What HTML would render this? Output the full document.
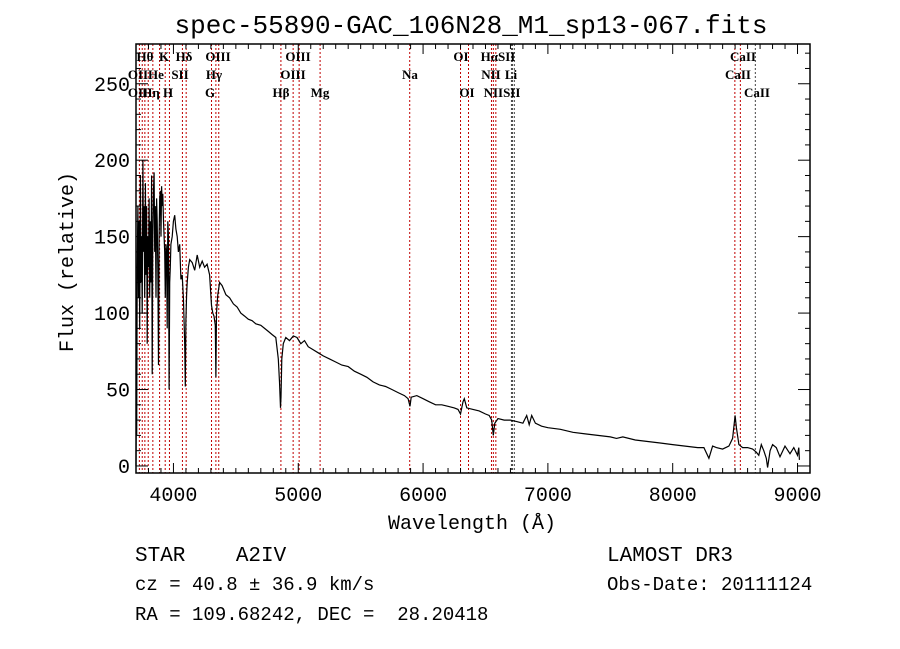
<!DOCTYPE html>
<html><head><meta charset="utf-8"><style>
body{margin:0;background:#fff;}
svg{display:block;}
.t{font-family:"Liberation Mono",monospace;white-space:pre;}
.s{font-family:"Liberation Serif",serif;font-weight:bold;font-size:13px;}
</style></head><body>
<svg id="c" width="900" height="649"></svg>
<script>
const wl = [3700,3703,3706,3710,3715,3720,3725,3730,3735,3740,3745,3750,3755,3760,3765,3770,3775,3780,3785,3790,3795,3800,3805,3810,3815,3820,3825,3830,3835,3840,3845,3850,3855,3860,3865,3870,3875,3880,3885,3890,3895,3900,3905,3910,3915,3920,3925,3930,3935,3940,3945,3950,3955,3960,3965,3970,3975,3980,3990,4000,4010,4020,4030,4040,4050,4060,4070,4080,4090,4095,4100,4105,4110,4120,4130,4150,4170,4190,4210,4230,4250,4270,4290,4305,4315,4325,4335,4340,4345,4355,4370,4390,4420,4450,4480,4510,4540,4570,4600,4630,4660,4700,4730,4760,4790,4820,4840,4850,4858,4862,4868,4880,4900,4930,4960,4990,5020,5050,5080,5120,5160,5200,5250,5300,5350,5400,5450,5500,5550,5600,5650,5700,5750,5800,5850,5880,5895,5905,5950,6000,6050,6100,6150,6200,6250,6280,6300,6320,6330,6350,6400,6450,6500,6530,6550,6563,6575,6600,6650,6700,6750,6800,6830,6850,6870,6900,6950,7000,7100,7200,7300,7400,7500,7550,7600,7700,7800,7900,8000,8100,8200,8250,8290,8320,8350,8400,8450,8480,8500,8510,8530,8560,8600,8640,8670,8690,8710,8730,8750,8760,8780,8800,8830,8860,8900,8940,8970,9000,9010,9015];
const flux = [0,60,20,130,170,110,160,90,190,120,150,100,200,140,170,110,185,125,170,80,150,130,175,110,160,120,190,60,150,180,192,140,170,110,175,160,130,66,150,175,180,150,183,170,178,160,150,140,110,145,140,90,160,150,50,120,130,145,150,160,164,155,150,140,145,122,125,110,80,52,95,112,120,130,135,133,128,138,130,134,130,132,125,105,100,98,92,58,100,112,120,118,112,110,106,104,100,98,96,95,93,92,90,88,86,84,70,55,38,45,70,80,84,82,85,84,80,82,78,76,74,72,70,68,66,65,62,60,58,55,53,52,50,48,46,44,39,45,46,44,42,40,40,39,38,37,34,42,44,38,37,36,34,33,30,20,28,31,30,30,29,28,33,27,33,28,26,25,24,22,21,20,19,18,19,17,16,15,14,13,12,12,5,13,12,11,13,18,33,25,14,12,12,11,9,7,14,10,5,-1,10,14,12,6,13,8,12,7,12,4,0];
const yTicks=[0,50,100,150,200,250];
const xTicks=[4000,5000,6000,7000,8000,9000];
const lineWl=[3727,3750,3771,3798,3835,3889,3934,3968,4072,4102,4305,4340,4363,4861,4959,5007,5175,5893,6300,6364,6548,6563,6583,6708,6716,6731,8498,8542,8662];
const lineDark=[0,0,0,0,0,0,0,0,0,0,0,0,0,0,0,0,0,0,0,0,0,0,0,1,1,1,0,0,1];
const labels=[["Hθ",145,61],["K",164,61],["Hδ",184,61],["OIII",218,61],["OIII",298,61],["OI",461,61],["HαSII",498,61],["CaII",743,61],
["OII",138,79],["He",156,79],["SII",180,79],["Hγ",214,79],["OIII",293,79],["Na",410,79],["NII",491,79],["Li",511,79],["CaII",738,79],
["OII",138,97],["Hη",151,97],["H",168,97],["G",210,97],["Hβ",281,97],["Mg",320,97],["OI",467,97],["NIISII",502,97],["CaII",757,97]];
const L=136,R=810,T=44,B=473,X0=3700,X1=9100,Y0=-4.6,Y1=276;
const sx=v=>L+(v-X0)/(X1-X0)*(R-L), sy=v=>B-(v-Y0)/(Y1-Y0)*(B-T);
const svg=document.getElementById('c');const NS='http://www.w3.org/2000/svg';
function mk(t,a,p){const e=document.createElementNS(NS,t);for(const k in a)e.setAttribute(k,a[k]);(p||svg).appendChild(e);return e;}
lineWl.forEach((w,i)=>{const e=mk('line',{x1:sx(w),x2:sx(w),y1:T,y2:B,stroke:lineDark[i]?'#444':'#c00000','stroke-width':1,'stroke-dasharray':'2,2'});

});
labels.forEach(l=>{const e=mk('text',{x:l[1],y:l[2],class:'s','text-anchor':'middle'});e.textContent=l[0];

});
let d='';wl.forEach((w,i)=>{d+=(i?'L':'M')+sx(w).toFixed(1)+','+sy(flux[i]).toFixed(1);});
const p=mk('path',{d:d,fill:'none',stroke:'#000','stroke-width':1.2});


const f=mk('rect',{x:L,y:T,width:R-L,height:B-T,fill:'none',stroke:'#000','stroke-width':1.5});


for(let w=3700;w<=9100;w+=100){const big=w%1000==0;const x=sx(w);
mk('line',{x1:x,x2:x,y1:B,y2:B-(big?10:5),stroke:'#000'});mk('line',{x1:x,x2:x,y1:T,y2:T+(big?10:5),stroke:'#000'});}
for(let v=0;v<=270;v+=10){const big=v%50==0;const y=sy(v);
mk('line',{x1:L,x2:L+(big?12:5),y1:y,y2:y,stroke:'#000'});mk('line',{x1:R,x2:R-(big?12:5),y1:y,y2:y,stroke:'#000'});}
xTicks.forEach(v=>{const e=mk('text',{x:sx(v),y:501,class:'t','font-size':20,'text-anchor':'middle'});e.textContent=v;

});
yTicks.forEach(v=>{const e=mk('text',{x:130,y:sy(v)+7,class:'t','font-size':20,'text-anchor':'end'});e.textContent=v;

});
function txt(s,x,y,sz,name,anchor,extra){const e=mk('text',Object.assign({x:x,y:y,class:'t','font-size':sz,'text-anchor':anchor||'start'},extra||{}));e.textContent=s;

return e;}
txt('spec-55890-GAC_106N28_M1_sp13-067.fits',471,33,26,'chart-title','middle');
txt('Wavelength (Å)',472,529,20,'x-axis-title','middle');
txt('Flux (relative)',73,262,20,'y-axis-title','middle',{transform:'rotate(-90 73 262)'});
txt('STAR    A2IV',135,561,21,'object-class','start');
txt('cz = 40.8 ± 36.9 km/s',135,590,19,'redshift-info','start');
txt('RA = 109.68242, DEC =  28.20418',135,620,19,'coordinates-info','start');
txt('LAMOST DR3',607,561,21,'survey-name','start');
txt('Obs-Date: 20111124',607,590,19,'obs-date','start');
</script>
</body></html>
